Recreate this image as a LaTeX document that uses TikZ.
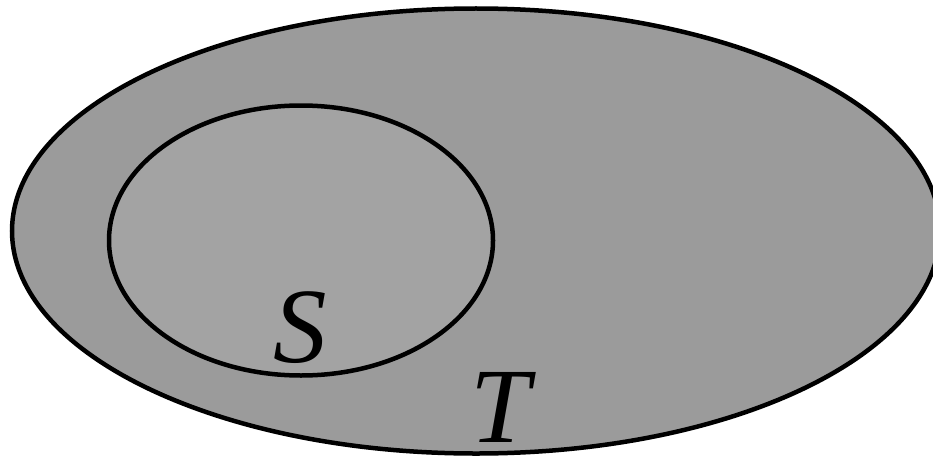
\documentclass[tikz,border=0pt]{standalone}
\usepackage{fontspec}
\setmainfont{Liberation Serif}
\definecolor{outerfill}{HTML}{9B9B9B}
\definecolor{innerfill}{HTML}{A3A3A3}
\tikzset{setshape/.style={draw=black,line width=4.5pt},
  setlabel/.style={inner sep=0pt,anchor=base,font=\fontsize{107}{110}\selectfont\itshape}}
\begin{document}
\begin{tikzpicture}[x=1pt,y=1pt]
\useasboundingbox (0,0) rectangle (933,459);
\begin{scope}
\clip (0,0) rectangle (933,459);
\draw[setshape,fill=outerfill] (476,228) ellipse [x radius=464, y radius=222.5];
\draw[setshape,fill=innerfill] (301,218.5) ellipse [x radius=192, y radius=135];
\end{scope}
\node[setlabel] (S) at (300,97) {S};
\node[setlabel] (T) at (500,17) {T};
\end{tikzpicture}
\end{document}
